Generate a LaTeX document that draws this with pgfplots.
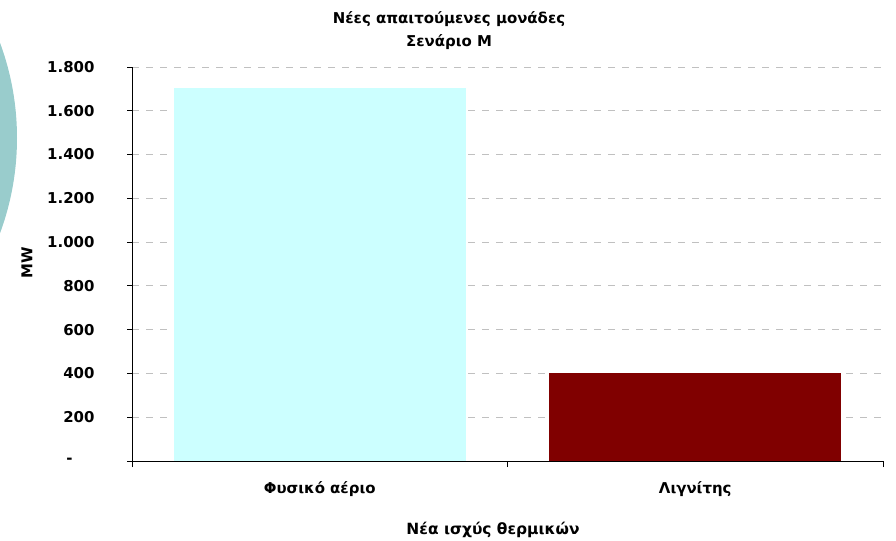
\documentclass[border=0pt]{standalone}
\usepackage{pgfplots}
\pgfplotsset{compat=1.18}
\usepackage{fontspec}
\setmainfont{DejaVu Sans}
\definecolor{barcyan}{HTML}{CCFFFF}
\definecolor{barred}{HTML}{800000}
\definecolor{gridgray}{HTML}{C0C0C0}
\definecolor{circ}{HTML}{99CCCC}
\newcommand{\zerolabel}{\makebox[28bp][l]{-}}
\begin{document}
\begin{tikzpicture}
\useasboundingbox (0bp,0bp) rectangle (896bp,541bp);
\begin{scope}
\clip (0bp,0bp) rectangle (896bp,541bp);
\fill[circ] (-257bp,403bp) circle (274bp);
\end{scope}
\begin{axis}[
  at={(132bp,80bp)}, anchor=south west,
  scale only axis, width=751bp, height=394bp,
  xmin=-0.5, xmax=1.5, ymin=0, ymax=1800,
  axis x line*=bottom, axis y line*=left,
  axis line style={black, line width=0.9pt},
  xtick={0,1}, xticklabels={Φυσικό αέριο, Λιγνίτης},
  xtick style={draw=none},
  extra x ticks={-0.5,0.5,1.5},
  extra x tick labels={},
  extra x tick style={major tick length=6bp, tick align=outside, xtick style={draw=black, line width=0.9pt}, grid=none},
  ytick={0,200,...,1800},
  yticklabels={\zerolabel,200,400,600,800,1.000,1.200,1.400,1.600,1.800},
  ytick style={black, line width=0.9pt},
  tick align=outside, major tick length=5bp,
  ymajorgrids, major grid style={gridgray, dash pattern=on 7bp off 7bp, line width=0.8pt},
  tick label style={font=\bfseries\fontsize{15}{18}\selectfont},
  yticklabel style={xshift=-29bp},
  xticklabel style={yshift=-12bp},
  ybar, bar width=0.778, bar shift=0pt,
  clip=false,
]
\addplot[fill=barcyan, draw=none] coordinates {(0,1705)};
\addplot[fill=barred, draw=none] coordinates {(1,400)};
\end{axis}
\node[font=\bfseries\fontsize{15}{18}\selectfont] at (449bp,522bp) {Νέες απαιτούμενες μονάδες};
\node[font=\bfseries\fontsize{15}{18}\selectfont] at (449bp,499bp) {Σενάριο M};
\node[font=\bfseries\fontsize{15}{18}\selectfont, rotate=90] at (27bp,278bp) {MW};
\node[font=\bfseries\fontsize{15.5}{18}\selectfont] at (493bp,11bp) {Νέα ισχύς θερμικών};
\end{tikzpicture}
\end{document}
